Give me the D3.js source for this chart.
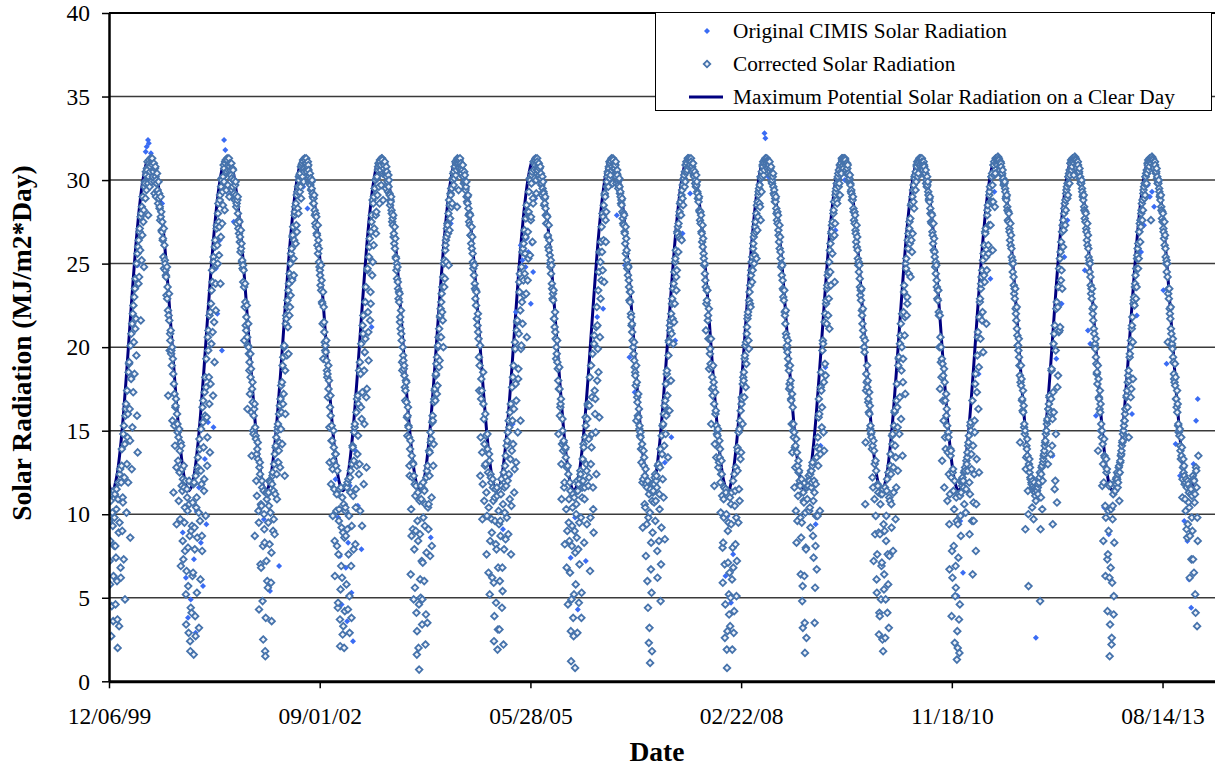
<!DOCTYPE html>
<html><head><meta charset="utf-8">
<script src="https://cdn.jsdelivr.net/npm/d3@7"></script>
<style>
body{margin:0;background:#fff}
svg{display:block}
text{font-family:"Liberation Serif","Times New Roman",serif;fill:#000}
</style>
</head><body>
<svg id="chart" width="1215" height="767"></svg>
<script>
// ---------- data ----------
const yTickValues = [0, 5, 10, 15, 20, 25, 30, 35, 40];
const xTickLabels = ["1999-12-06", "2002-09-01", "2005-05-28", "2008-02-22", "2010-11-18", "2013-08-14"];
const xDomain = ["1999-12-06", "2014-12-28"];

// Maximum potential (clear-day) radiation by day of year
const clearDayDoy   = [1, 15, 32, 46, 60, 74, 91, 105, 121, 135, 152, 166, 172, 182, 196, 213, 227, 244, 258, 274, 288, 305, 319, 335, 349, 355, 365];
const clearDayValue = [11.64, 12.49, 14.32, 16.36, 18.73, 21.25, 24.23, 26.46, 28.55, 29.92, 30.99, 31.37, 31.39, 31.24, 30.66, 29.34, 27.80, 25.41, 23.11, 20.29, 17.85, 15.16, 13.39, 12.01, 11.46, 11.41, 11.60];
const clearDayYears = [1999, 2000, 2001, 2002, 2003, 2004, 2005, 2006, 2007, 2008, 2009, 2010, 2011, 2012, 2013, 2014];
const clearDayRange = ["1999-11-28", "2014-01-20"];

// Corrected solar radiation: three interleaved samplings, every 5 days from each start date
const correctedStep = 5;
const startsA = ["1999-12-07", "2000-01-01", "2001-01-01", "2002-01-01", "2003-01-01", "2004-01-01", "2005-01-01", "2006-01-01", "2007-01-01", "2008-01-01", "2009-01-01", "2010-01-01", "2011-01-01", "2012-01-01", "2013-01-01", "2014-01-01"];
const startsB = ["1999-12-09", "2000-01-03", "2001-01-03", "2002-01-03", "2003-01-03", "2004-01-03", "2005-01-03", "2006-01-03", "2007-01-03", "2008-01-03", "2009-01-03", "2010-01-03", "2011-01-03", "2012-01-03", "2013-01-03", "2014-01-03"];
const startsC = ["1999-12-11", "2000-01-05", "2001-01-05", "2002-01-05", "2003-01-05", "2004-01-05", "2005-01-05", "2006-01-05", "2007-01-05", "2008-01-05", "2009-01-05", "2010-01-05", "2011-01-05", "2012-01-05", "2013-01-05", "2014-01-05"];

const correctedA1999 = [9.6, 8.4, 2.7, 10.1, 6.3];
const correctedA2000 = [9.8, 4.6, 11.5, 2.0, 8.9, 12.4, 6.2, 13.9, 10.7, 15.3, 4.9, 16.6, 17.4, 11.9, 19.1, 8.6, 20.8, 15.2, 22.5, 18.4, 24.1, 25.0, 13.7, 26.4, 27.1, 21.6, 28.4, 29.0, 24.8, 29.8, 30.3, 30.6, 27.9, 31.0, 30.8, 29.9, 30.9, 30.5, 29.2, 30.2, 29.8, 29.4, 28.9, 28.4, 27.8, 26.9, 26.5, 24.7, 25.0, 24.2, 22.9, 17.1, 21.6, 20.4, 19.8, 15.6, 11.3, 17.2, 16.5, 9.4, 14.9, 10.8, 13.8, 6.9, 12.7, 12.1, 11.6, 7.8, 3.4, 11.0, 5.7, 10.6, 1.8];
const correctedA2001 = [4.1, 10.7, 1.6, 7.9, 12.3, 5.3, 13.4, 3.2, 9.6, 15.1, 7.8, 16.8, 12.1, 18.2, 19.3, 14.6, 21.0, 21.9, 17.8, 23.4, 20.9, 25.1, 26.0, 22.2, 27.3, 28.0, 25.5, 29.1, 29.6, 27.4, 30.2, 30.7, 31.0, 29.4, 31.2, 30.9, 30.8, 30.6, 30.1, 29.6, 30.0, 28.8, 29.1, 27.4, 28.0, 26.8, 26.6, 25.9, 25.2, 23.9, 20.4, 22.7, 21.8, 16.3, 20.0, 19.1, 18.2, 13.5, 16.7, 15.9, 8.7, 14.5, 11.1, 13.3, 4.3, 12.4, 6.8, 11.6, 2.5, 9.1, 1.5, 7.2, 11.2];
const correctedA2002 = [11.3, 8.2, 11.9, 3.6, 12.5, 9.7, 13.6, 14.1, 10.9, 15.4, 16.0, 12.8, 17.7, 14.2, 19.4, 20.1, 16.0, 21.7, 22.8, 19.6, 24.4, 23.1, 25.9, 26.7, 24.3, 28.1, 28.6, 26.9, 29.6, 30.0, 30.4, 28.9, 31.0, 31.1, 30.7, 31.2, 31.0, 30.8, 30.6, 29.8, 30.1, 29.5, 29.0, 28.6, 27.9, 27.2, 26.7, 25.6, 25.1, 24.3, 23.4, 22.6, 19.3, 20.9, 20.1, 19.2, 18.4, 17.5, 13.1, 15.9, 15.3, 9.9, 14.0, 6.3, 12.9, 8.1, 4.7, 10.3, 2.1, 6.9, 11.0, 3.3, 8.6];
const correctedA2003 = [10.4, 5.8, 11.9, 7.6, 2.9, 12.6, 9.3, 14.0, 13.2, 15.4, 11.5, 16.9, 14.7, 18.6, 10.2, 20.2, 17.3, 21.9, 15.4, 20.5, 12.8, 24.7, 19.2, 26.5, 22.6, 27.9, 25.1, 29.0, 29.5, 26.8, 30.2, 30.8, 30.9, 31.1, 29.7, 31.2, 31.0, 30.9, 30.5, 30.2, 29.9, 29.6, 29.1, 28.7, 28.0, 27.3, 26.8, 25.9, 25.3, 24.1, 23.5, 22.7, 21.8, 20.8, 18.6, 19.2, 18.3, 17.4, 16.7, 15.9, 15.2, 12.3, 6.4, 13.5, 9.1, 12.3, 5.6, 11.7, 3.0, 8.4, 0.7, 6.1, 10.9];
const correctedA2004 = [4.9, 9.8, 11.4, 2.2, 7.7, 12.9, 10.6, 13.7, 14.3, 8.1, 15.6, 16.7, 17.5, 18.4, 19.4, 20.1, 21.1, 21.9, 22.7, 23.6, 20.0, 25.2, 26.1, 26.6, 27.3, 24.9, 28.5, 29.1, 29.5, 30.0, 30.5, 30.8, 31.0, 28.4, 31.2, 31.1, 30.9, 30.7, 30.6, 30.2, 29.9, 29.4, 29.0, 28.6, 27.9, 27.3, 26.7, 25.9, 25.1, 24.3, 23.5, 22.5, 21.7, 20.9, 17.4, 12.3, 18.1, 9.7, 16.6, 14.2, 13.0, 7.6, 13.9, 10.4, 5.2, 12.2, 8.9, 11.6, 2.4, 9.6, 4.7, 11.1, 6.8];
const correctedA2005 = [3.1, 8.7, 11.7, 5.4, 12.5, 10.1, 13.5, 9.8, 14.9, 12.4, 16.1, 7.6, 17.6, 14.2, 11.3, 19.9, 16.8, 21.6, 18.7, 23.3, 15.6, 24.8, 21.4, 26.2, 24.4, 27.7, 20.6, 26.9, 29.3, 25.5, 27.8, 30.5, 28.6, 31.0, 30.9, 29.2, 31.1, 30.8, 30.7, 30.1, 29.8, 29.5, 29.2, 28.6, 27.9, 27.4, 26.7, 25.8, 25.0, 24.4, 23.5, 22.8, 21.7, 20.9, 20.0, 19.1, 14.8, 17.5, 16.6, 10.9, 15.0, 14.4, 8.2, 13.4, 12.8, 4.6, 10.9, 6.5, 1.2, 9.3, 3.8, 11.0, 7.7];
const correctedA2006 = [10.6, 2.9, 11.8, 7.0, 12.4, 5.3, 13.3, 14.0, 11.6, 15.3, 9.4, 16.5, 12.2, 6.6, 18.9, 14.8, 10.3, 20.7, 16.9, 12.4, 21.3, 18.5, 25.7, 22.9, 27.2, 24.6, 28.5, 29.2, 26.3, 29.9, 30.4, 30.7, 31.0, 31.1, 30.8, 31.2, 31.0, 30.9, 29.8, 30.3, 29.7, 29.6, 29.0, 28.5, 27.7, 27.3, 26.8, 25.6, 25.2, 24.3, 23.6, 22.7, 21.8, 20.9, 20.0, 19.2, 18.3, 15.6, 16.7, 15.8, 15.3, 14.6, 13.9, 9.2, 12.9, 12.3, 7.5, 11.6, 4.4, 11.2, 1.1, 8.3, 10.8];
const correctedA2007 = [11.4, 11.8, 9.6, 12.3, 6.2, 13.0, 10.3, 4.8, 14.7, 12.1, 16.0, 8.5, 17.8, 18.6, 13.4, 20.3, 21.0, 22.0, 22.9, 20.2, 24.5, 25.3, 23.4, 26.8, 27.4, 28.1, 28.7, 26.4, 29.7, 30.1, 30.5, 30.9, 31.0, 31.2, 31.3, 30.9, 31.1, 30.8, 30.6, 30.4, 30.0, 29.7, 29.2, 28.7, 28.1, 27.4, 26.8, 26.0, 25.3, 24.4, 21.0, 22.8, 21.9, 18.7, 19.9, 15.4, 18.2, 17.6, 11.7, 16.0, 15.3, 14.7, 14.0, 13.4, 10.1, 12.4, 5.9, 9.8, 2.6, 11.3, 0.8, 7.1, 4.0];
const correctedA2008 = [3.3, 9.4, 1.9, 6.8, 12.4, 8.2, 5.1, 12.6, 14.9, 10.8, 16.2, 17.0, 17.8, 18.5, 19.5, 20.3, 21.2, 22.1, 22.8, 23.7, 24.6, 25.4, 26.2, 26.8, 27.5, 25.3, 28.7, 29.3, 29.7, 27.6, 30.5, 30.8, 31.0, 31.2, 31.3, 31.1, 31.1, 30.9, 30.7, 30.3, 30.0, 29.6, 29.1, 28.7, 28.0, 27.4, 26.7, 25.9, 25.3, 24.3, 23.5, 22.8, 21.9, 20.8, 20.1, 19.3, 17.5, 17.6, 16.8, 13.7, 15.4, 11.6, 14.1, 8.3, 12.9, 12.5, 12.0, 6.4, 9.5, 3.2, 10.7, 1.7, 7.9];
const correctedA2009 = [10.9, 11.7, 12.0, 9.2, 12.6, 13.1, 7.4, 3.5, 11.8, 6.7, 14.6, 16.9, 10.2, 18.5, 16.4, 20.2, 13.8, 22.0, 22.8, 23.7, 24.5, 21.1, 26.2, 26.9, 27.5, 28.2, 23.9, 29.3, 29.8, 30.2, 30.6, 29.1, 31.0, 31.2, 31.3, 31.3, 31.2, 31.0, 30.7, 30.4, 30.1, 29.7, 29.2, 28.8, 28.1, 27.4, 26.8, 26.0, 25.3, 24.5, 23.6, 22.8, 21.9, 21.0, 20.0, 10.6, 18.4, 17.6, 16.9, 16.0, 15.3, 14.6, 14.1, 7.2, 13.0, 9.9, 5.3, 11.7, 2.8, 8.8, 4.9, 11.2, 1.8];
const correctedA2010 = [6.4, 2.6, 9.9, 4.1, 12.5, 7.5, 13.6, 9.2, 14.8, 11.3, 16.2, 13.4, 17.8, 12.6, 19.4, 20.2, 15.7, 22.0, 19.3, 23.7, 17.2, 25.3, 22.6, 26.8, 27.5, 24.2, 28.6, 26.8, 29.7, 30.1, 30.5, 30.8, 31.0, 31.1, 31.3, 31.2, 31.1, 30.9, 30.8, 30.4, 30.0, 29.7, 29.1, 28.7, 28.0, 27.4, 26.7, 25.8, 25.4, 24.4, 23.6, 22.8, 21.9, 17.5, 20.0, 13.2, 18.3, 11.6, 16.8, 15.9, 10.8, 14.6, 6.7, 13.5, 3.9, 12.5, 8.1, 2.3, 5.6, 1.3, 9.4, 3.7, 11.1];
const correctedA2011 = [11.3, 11.7, 12.0, 10.6, 12.6, 13.2, 13.7, 14.3, 8.8, 15.5, 12.7, 6.4, 9.6, 14.9, 7.8, 17.3, 20.9, 12.5, 22.9, 23.8, 24.6, 19.7, 26.1, 26.8, 21.4, 28.2, 25.6, 29.3, 27.3, 30.2, 25.8, 30.9, 28.4, 31.2, 31.3, 31.4, 31.2, 31.0, 30.8, 30.4, 30.1, 29.8, 29.3, 28.8, 28.2, 27.5, 26.9, 26.1, 25.4, 24.5, 23.7, 22.9, 22.0, 21.1, 20.1, 19.4, 14.3, 17.7, 16.9, 16.1, 15.4, 9.1, 14.1, 13.5, 5.7, 12.5, 12.1, 11.8, 11.6, 11.4, 11.3, 10.8, 11.4];
const correctedA2012 = [11.2, 11.9, 4.8, 12.4, 10.3, 13.3, 13.8, 14.4, 15.0, 15.7, 16.3, 17.1, 13.6, 18.7, 9.4, 16.1, 21.3, 14.8, 10.7, 18.3, 24.7, 21.2, 26.3, 23.5, 27.6, 28.3, 28.8, 29.4, 29.8, 30.2, 30.6, 31.0, 31.1, 31.2, 30.3, 31.4, 31.2, 31.1, 30.9, 30.5, 30.2, 29.8, 29.3, 28.8, 28.2, 27.5, 26.9, 26.1, 25.4, 24.5, 23.7, 22.9, 22.0, 21.1, 20.2, 19.4, 18.5, 13.8, 16.9, 16.1, 15.4, 11.7, 8.4, 13.5, 6.3, 12.5, 4.2, 9.0, 1.5, 6.8, 2.6, 10.5, 5.1];
const correctedA2013 = [11.4, 11.8, 12.1, 12.4, 10.8, 13.2, 13.8, 14.4, 15.0, 15.6, 16.3, 17.1, 17.9, 14.6, 19.6, 20.4, 21.3, 18.1, 23.0, 23.8, 24.7, 25.5, 26.2, 26.9, 27.6, 28.2, 28.8, 29.4, 29.8, 30.2, 30.6, 30.9, 31.1, 31.2, 27.6, 31.4, 31.2, 31.1, 30.9, 30.5, 30.2, 29.8, 29.3, 28.8, 28.2, 27.5, 26.9, 26.1, 25.4, 24.5, 20.3, 22.9, 22.0, 21.1, 20.2, 19.4, 18.1, 17.7, 16.9, 16.1, 15.4, 14.7, 13.8, 13.5, 12.1, 12.5, 11.8, 10.2, 11.6, 9.4, 11.3, 8.7, 11.5];
const correctedA2014 = [11.1, 7.3, 12.0, 5.2, 12.6, 9.8, 13.5];

const correctedB1999 = [7.2, 10.8, 4.5, 9.3, 11.4];
const correctedB2000 = [11.2, 7.4, 6.0, 10.9, 3.3, 12.7, 11.9, 9.0, 14.8, 12.2, 15.9, 10.1, 14.6, 18.5, 16.3, 20.1, 12.7, 22.0, 20.3, 23.5, 21.7, 15.9, 26.0, 24.2, 25.8, 28.0, 26.7, 27.5, 29.6, 28.9, 29.4, 31.1, 30.2, 29.6, 31.3, 31.0, 30.2, 31.0, 30.7, 29.0, 30.4, 28.6, 29.2, 27.6, 28.1, 27.5, 25.4, 26.1, 24.6, 23.1, 23.6, 21.9, 19.8, 21.0, 18.9, 19.3, 17.8, 14.1, 16.9, 16.0, 13.2, 15.1, 9.7, 14.1, 11.4, 7.3, 9.5, 12.0, 6.6, 10.2, 2.9, 8.7, 4.4];
const correctedB2001 = [9.3, 6.5, 11.9, 3.9, 10.4, 8.6, 12.6, 14.5, 6.1, 11.8, 16.4, 14.0, 17.3, 9.9, 15.8, 20.6, 18.2, 13.7, 22.6, 24.6, 17.1, 21.5, 26.4, 24.9, 26.1, 28.6, 27.2, 23.8, 30.1, 29.3, 30.9, 28.2, 31.2, 30.5, 29.7, 31.3, 31.0, 30.3, 29.4, 30.6, 29.2, 29.7, 28.4, 28.8, 27.1, 27.5, 25.7, 26.2, 24.7, 24.6, 22.4, 21.3, 22.5, 20.1, 19.6, 17.2, 18.7, 17.5, 15.0, 16.3, 15.2, 12.0, 13.9, 10.2, 12.8, 7.0, 10.5, 4.8, 11.4, 8.3, 3.8, 10.9, 5.6];
const correctedB2002 = [10.5, 12.0, 5.9, 11.8, 9.0, 13.0, 11.2, 14.6, 15.0, 13.1, 14.3, 16.9, 16.1, 18.9, 17.2, 12.3, 21.4, 19.5, 21.2, 23.8, 22.4, 25.6, 24.0, 27.2, 26.4, 28.4, 27.3, 29.3, 28.0, 30.3, 29.6, 30.9, 30.2, 29.9, 31.3, 30.6, 30.5, 31.1, 29.9, 30.4, 29.4, 30.0, 28.6, 29.1, 27.4, 27.8, 26.1, 26.4, 24.8, 23.7, 24.0, 21.4, 22.4, 20.3, 19.7, 18.6, 17.0, 18.0, 16.4, 11.8, 14.4, 13.2, 11.5, 13.6, 10.2, 12.6, 7.6, 11.5, 5.5, 9.2, 2.8, 10.6, 4.2];
const correctedB2003 = [8.7, 11.6, 4.3, 9.9, 12.2, 6.9, 13.0, 11.1, 14.9, 8.2, 16.1, 13.6, 16.6, 13.0, 18.4, 15.7, 21.3, 11.8, 19.7, 23.6, 17.5, 22.1, 25.4, 21.6, 26.9, 24.3, 28.6, 27.1, 30.0, 28.1, 29.1, 31.0, 28.6, 30.6, 31.3, 30.4, 30.7, 31.1, 29.5, 30.5, 29.3, 30.0, 28.5, 29.0, 27.5, 27.9, 26.2, 26.5, 24.6, 24.8, 22.9, 23.2, 21.1, 20.4, 20.0, 18.7, 17.6, 18.0, 15.8, 16.4, 14.6, 13.9, 10.3, 12.2, 13.0, 7.9, 11.1, 4.1, 9.6, 2.0, 10.8, 5.0, 7.2];
const correctedB2004 = [7.1, 11.5, 9.3, 4.0, 12.6, 10.4, 13.8, 7.5, 14.5, 15.5, 12.9, 16.9, 16.8, 19.0, 17.7, 20.6, 19.2, 22.3, 23.2, 21.6, 25.0, 24.1, 26.4, 27.1, 26.8, 28.8, 27.7, 29.5, 28.6, 30.4, 30.1, 31.1, 30.6, 31.3, 29.4, 31.2, 31.0, 30.4, 30.9, 29.8, 30.3, 29.6, 28.7, 29.1, 27.5, 27.9, 26.2, 26.6, 24.7, 24.9, 22.9, 23.3, 21.3, 20.5, 18.9, 14.6, 17.4, 11.8, 15.7, 12.9, 14.7, 9.9, 12.5, 13.6, 8.4, 11.9, 6.2, 10.8, 3.9, 11.5, 7.9, 1.9, 10.2];
const correctedB2005 = [6.0, 11.2, 4.4, 10.6, 7.9, 12.9, 11.7, 14.4, 8.8, 15.2, 13.3, 10.5, 15.6, 18.9, 12.7, 17.8, 21.0, 14.9, 20.8, 24.4, 19.9, 22.7, 25.9, 23.1, 25.6, 23.2, 28.1, 25.3, 27.8, 30.0, 29.8, 26.3, 31.1, 30.1, 31.3, 30.6, 30.6, 31.0, 30.1, 30.4, 29.1, 29.9, 28.5, 29.0, 27.4, 27.8, 26.0, 26.4, 24.8, 24.9, 22.9, 23.4, 21.2, 20.5, 19.6, 18.7, 17.5, 15.9, 16.9, 14.2, 13.8, 11.6, 13.9, 10.3, 9.0, 12.4, 8.4, 11.4, 4.9, 10.4, 2.7, 9.0, 5.8];
const correctedB2006 = [8.6, 11.4, 4.7, 12.1, 9.8, 11.0, 12.0, 8.3, 14.6, 13.0, 15.7, 11.7, 16.5, 9.8, 14.0, 19.6, 8.9, 17.4, 14.9, 22.4, 19.9, 24.5, 20.6, 26.3, 25.7, 27.8, 23.9, 29.0, 28.1, 30.2, 29.6, 31.1, 30.3, 31.3, 29.8, 30.7, 30.7, 31.1, 30.4, 29.9, 30.0, 29.2, 28.6, 28.9, 27.4, 27.9, 26.2, 26.5, 24.7, 24.8, 22.8, 23.3, 21.3, 20.4, 19.6, 18.8, 17.7, 17.9, 15.9, 16.3, 14.7, 13.9, 14.2, 12.1, 13.4, 10.4, 11.8, 6.0, 9.8, 3.2, 11.5, 5.3, 8.9];
const correctedB2007 = [11.9, 12.2, 10.8, 11.6, 12.9, 8.4, 12.8, 7.0, 13.6, 15.4, 14.1, 16.8, 15.9, 17.1, 19.5, 16.2, 21.6, 20.8, 21.7, 23.8, 22.6, 25.8, 24.6, 27.2, 26.6, 28.6, 27.9, 29.4, 28.5, 30.3, 29.9, 31.1, 30.6, 31.3, 30.9, 31.1, 30.8, 31.0, 30.3, 30.5, 29.6, 29.9, 28.9, 29.0, 27.6, 27.9, 26.3, 26.5, 24.9, 24.0, 22.6, 23.4, 20.5, 20.5, 19.0, 18.8, 17.1, 17.9, 14.2, 16.2, 14.8, 15.1, 13.1, 13.9, 12.4, 11.1, 8.3, 11.6, 4.6, 10.0, 3.0, 9.5, 6.5];
const correctedB2008 = [5.0, 11.3, 8.0, 2.9, 10.5, 12.8, 7.2, 13.8, 11.5, 15.6, 13.7, 16.9, 18.2, 17.0, 20.1, 19.0, 21.7, 20.4, 23.3, 22.4, 25.1, 24.6, 26.6, 25.5, 26.9, 28.5, 27.8, 29.5, 28.4, 30.1, 30.2, 31.1, 30.6, 31.3, 31.0, 30.7, 30.6, 31.1, 30.3, 29.9, 30.2, 29.2, 28.7, 29.0, 27.6, 27.9, 26.3, 26.6, 24.8, 24.9, 23.0, 23.4, 21.4, 20.6, 19.7, 18.9, 17.8, 18.0, 15.4, 16.4, 14.6, 14.0, 10.2, 13.7, 11.1, 12.6, 11.7, 8.6, 4.8, 11.3, 6.3, 10.1, 2.6];
const correctedB2009 = [11.7, 12.3, 10.4, 12.6, 11.9, 8.7, 12.0, 5.6, 9.9, 14.0, 12.9, 16.0, 13.6, 17.4, 19.8, 14.9, 21.5, 18.3, 21.4, 24.3, 22.9, 25.8, 23.7, 27.3, 26.6, 28.7, 27.4, 29.5, 28.6, 30.4, 29.8, 30.9, 30.4, 31.3, 30.7, 31.0, 30.9, 30.4, 30.9, 29.9, 30.3, 29.3, 28.8, 29.0, 27.6, 27.9, 26.3, 26.6, 24.9, 24.9, 23.1, 23.5, 21.4, 20.6, 19.7, 14.3, 17.9, 18.0, 16.1, 16.5, 14.8, 13.9, 11.6, 13.8, 8.8, 12.6, 7.6, 11.3, 4.1, 10.6, 6.9, 2.5, 9.4];
const correctedB2010 = [9.0, 4.9, 11.4, 7.6, 3.2, 10.8, 12.4, 14.7, 7.8, 15.3, 14.1, 11.6, 16.4, 18.9, 14.8, 20.7, 18.6, 13.5, 22.1, 20.7, 25.0, 21.9, 26.4, 24.4, 26.2, 28.5, 25.7, 29.4, 28.3, 30.3, 29.9, 31.1, 30.4, 31.3, 30.8, 31.1, 30.8, 31.1, 30.3, 30.6, 29.6, 29.9, 28.8, 29.0, 27.5, 27.9, 26.2, 26.5, 24.8, 24.9, 22.9, 23.4, 20.0, 20.6, 18.2, 19.0, 15.6, 17.9, 13.9, 16.3, 13.7, 12.4, 11.2, 13.8, 7.8, 12.7, 10.3, 5.1, 11.0, 3.0, 7.4, 1.7, 9.9];
const correctedB2011 = [11.9, 12.2, 11.6, 12.6, 10.1, 13.0, 12.6, 14.7, 11.2, 15.0, 9.6, 14.1, 12.4, 17.8, 10.6, 19.5, 16.3, 21.8, 20.5, 24.2, 22.1, 25.6, 23.9, 27.1, 24.6, 28.5, 27.3, 29.6, 28.7, 30.4, 28.7, 31.1, 30.4, 31.3, 30.9, 31.1, 30.8, 31.1, 30.4, 30.6, 29.7, 29.9, 28.9, 29.1, 27.6, 28.0, 26.4, 26.7, 25.0, 25.0, 23.2, 23.5, 21.6, 20.7, 19.8, 18.9, 17.9, 18.1, 16.2, 16.5, 14.8, 12.7, 13.9, 11.4, 13.0, 12.8, 12.2, 10.4, 11.7, 11.9, 11.1, 11.5, 11.7];
const correctedB2012 = [11.8, 12.2, 9.1, 12.8, 12.0, 13.5, 14.1, 14.8, 15.4, 13.0, 16.6, 15.9, 16.9, 14.1, 17.3, 20.8, 12.0, 22.3, 17.6, 23.6, 21.0, 25.7, 24.6, 27.3, 27.0, 28.6, 28.2, 29.6, 29.1, 30.4, 30.3, 31.2, 30.8, 31.3, 31.0, 31.2, 30.9, 31.1, 30.5, 30.7, 29.8, 30.0, 29.0, 29.1, 27.7, 28.0, 26.4, 26.7, 25.0, 25.0, 23.2, 23.5, 21.6, 20.8, 19.9, 19.0, 17.8, 18.1, 16.3, 16.6, 14.6, 14.2, 11.9, 13.4, 9.8, 12.7, 7.6, 11.7, 3.4, 10.3, 5.9, 11.2, 8.3];
const correctedB2013 = [11.9, 12.2, 11.6, 12.8, 12.5, 13.5, 14.1, 14.8, 15.3, 16.0, 14.6, 17.4, 18.3, 18.0, 20.0, 17.5, 21.8, 22.6, 22.5, 24.3, 23.6, 25.9, 25.3, 27.4, 27.2, 28.6, 28.2, 29.6, 29.1, 30.4, 30.4, 31.2, 30.8, 31.3, 31.0, 31.2, 30.9, 31.1, 30.5, 30.7, 29.8, 30.0, 29.0, 29.1, 27.7, 28.0, 26.5, 26.7, 25.0, 25.0, 23.2, 23.5, 21.7, 20.8, 19.9, 19.1, 17.9, 18.2, 16.4, 16.6, 14.9, 15.1, 13.3, 14.0, 12.8, 12.9, 10.9, 12.1, 8.6, 11.8, 10.4, 11.6, 7.3];
const correctedB2014 = [9.0, 12.1, 10.7, 4.1, 11.6, 8.4];

const correctedC1999 = [5.8, 9.9, 11.2, 3.6, 8.1];
const correctedC2000 = [8.1, 10.3, 3.7, 11.9, 9.5, 6.8, 12.9, 11.0, 7.3, 14.2, 16.3, 13.0, 16.0, 19.0, 14.4, 18.1, 21.4, 17.3, 23.0, 21.1, 19.5, 25.6, 23.8, 26.9, 27.8, 25.2, 29.0, 28.2, 29.9, 30.5, 30.7, 29.8, 31.2, 30.5, 30.0, 31.3, 30.6, 29.9, 30.8, 30.0, 29.3, 29.9, 28.3, 29.0, 27.0, 26.4, 27.1, 25.2, 24.3, 24.8, 22.2, 23.2, 20.8, 19.6, 20.0, 18.4, 15.3, 16.4, 12.8, 15.4, 14.6, 12.5, 14.3, 11.7, 8.4, 12.9, 10.4, 5.2, 11.5, 8.0, 12.0, 2.4, 9.0];
const correctedC2001 = [6.3, 11.8, 9.2, 2.7, 11.0, 12.8, 10.1, 13.9, 12.6, 8.7, 15.5, 11.4, 15.9, 17.6, 12.9, 19.8, 16.6, 22.1, 20.2, 23.9, 25.4, 19.1, 23.8, 27.1, 25.0, 27.5, 28.8, 26.6, 30.0, 28.5, 29.9, 31.1, 30.4, 31.3, 30.6, 29.0, 30.4, 31.0, 30.7, 30.0, 28.9, 29.9, 28.6, 29.0, 27.6, 26.3, 27.0, 25.1, 24.9, 23.6, 23.8, 21.0, 20.6, 21.4, 18.6, 19.6, 16.1, 17.9, 14.8, 16.6, 14.7, 13.6, 14.3, 9.5, 13.1, 10.6, 12.0, 8.1, 10.0, 1.8, 11.3, 6.0, 9.5];
const correctedC2002 = [12.0, 10.1, 7.7, 12.3, 11.4, 8.8, 14.0, 12.4, 15.2, 13.8, 16.5, 15.1, 17.9, 16.6, 20.0, 18.6, 21.9, 22.4, 23.4, 21.9, 25.0, 24.2, 26.6, 25.3, 27.9, 26.2, 29.1, 28.3, 30.2, 29.3, 30.8, 30.1, 31.2, 30.5, 31.0, 31.3, 30.7, 30.9, 30.2, 29.7, 29.9, 29.2, 28.9, 28.2, 28.0, 26.8, 27.3, 25.9, 24.6, 24.9, 22.7, 23.3, 21.5, 19.8, 20.4, 18.2, 18.9, 15.2, 17.1, 14.4, 12.7, 15.0, 8.4, 13.6, 11.2, 4.4, 9.6, 3.7, 11.6, 6.2, 8.9, 2.0, 10.2];
const correctedC2003 = [11.7, 9.1, 12.1, 5.1, 11.3, 3.8, 14.1, 7.9, 15.2, 10.4, 12.9, 17.1, 12.4, 19.1, 16.4, 9.3, 20.8, 18.6, 22.7, 17.0, 24.6, 20.9, 26.0, 23.3, 27.5, 28.8, 26.1, 29.5, 27.9, 30.1, 30.6, 29.6, 31.2, 30.9, 31.3, 28.8, 31.0, 30.4, 30.8, 29.7, 30.3, 29.2, 28.8, 28.2, 27.7, 26.6, 27.2, 25.4, 25.0, 23.9, 23.3, 21.5, 22.2, 19.1, 19.5, 18.9, 16.8, 17.9, 14.7, 15.3, 12.9, 14.4, 8.7, 13.1, 4.9, 11.8, 9.0, 1.6, 11.3, 4.6, 8.8, 11.7, 3.4];
const correctedC2004 = [11.9, 6.0, 10.6, 12.2, 3.5, 9.1, 12.3, 14.9, 11.0, 15.9, 14.2, 17.4, 18.3, 17.2, 20.0, 18.8, 21.8, 20.6, 22.1, 24.2, 23.6, 25.8, 25.1, 27.4, 28.0, 27.0, 29.2, 28.4, 30.1, 29.7, 30.8, 30.3, 31.2, 31.0, 30.7, 31.3, 30.6, 30.9, 30.2, 30.5, 29.5, 29.9, 29.0, 28.3, 28.0, 26.7, 27.2, 25.6, 24.9, 23.8, 23.4, 21.7, 22.0, 19.4, 20.1, 16.9, 13.7, 18.5, 10.8, 16.0, 11.3, 14.8, 6.5, 13.2, 12.4, 9.7, 12.1, 5.9, 11.0, 8.2, 11.6, 3.1, 9.4];
const correctedC2005 = [9.6, 12.1, 6.8, 2.2, 11.6, 8.5, 14.1, 12.0, 15.6, 10.9, 16.6, 13.8, 18.2, 16.3, 20.3, 13.1, 21.5, 18.1, 23.9, 22.2, 20.1, 25.7, 24.0, 27.0, 26.6, 28.5, 24.0, 28.1, 30.1, 27.6, 30.3, 28.9, 30.6, 31.2, 30.0, 31.3, 30.9, 30.3, 30.8, 29.7, 30.2, 29.3, 28.9, 28.3, 27.9, 26.6, 27.3, 25.5, 25.2, 23.8, 23.2, 21.7, 22.1, 19.3, 20.4, 18.0, 18.8, 16.4, 13.0, 15.7, 14.3, 11.9, 14.0, 6.8, 12.9, 9.5, 11.9, 3.0, 8.1, 11.2, 5.2, 0.8, 10.0];
const correctedC2006 = [12.0, 7.9, 9.5, 12.6, 3.8, 11.6, 14.2, 10.9, 15.8, 12.6, 16.6, 14.5, 18.2, 13.0, 17.0, 11.6, 20.2, 16.0, 21.2, 18.0, 23.4, 15.8, 25.1, 24.0, 28.0, 26.4, 29.1, 27.6, 29.6, 30.5, 30.8, 30.1, 31.2, 30.6, 31.3, 31.0, 30.9, 30.2, 30.6, 29.5, 30.1, 29.3, 28.8, 28.1, 28.0, 26.9, 27.2, 25.8, 24.9, 24.0, 23.3, 22.0, 21.4, 20.0, 20.3, 18.5, 18.9, 17.0, 17.2, 15.1, 14.9, 13.1, 11.9, 13.8, 10.6, 12.7, 9.4, 12.0, 2.3, 10.1, 6.7, 1.8, 11.3];
const correctedC2007 = [10.7, 12.4, 12.0, 7.8, 12.9, 11.2, 13.9, 9.2, 15.3, 11.0, 16.5, 14.8, 18.4, 16.2, 20.4, 21.3, 18.0, 22.6, 23.5, 21.5, 25.1, 24.2, 26.9, 25.7, 27.9, 26.5, 29.1, 28.9, 30.0, 29.6, 30.9, 30.5, 31.3, 30.8, 31.2, 31.3, 30.5, 31.0, 30.2, 29.8, 30.3, 29.3, 28.9, 28.2, 28.1, 26.9, 27.3, 25.6, 25.0, 23.6, 23.4, 21.6, 22.3, 19.6, 20.5, 17.5, 18.9, 16.6, 17.3, 13.4, 15.0, 12.8, 14.4, 11.9, 13.2, 8.0, 10.9, 7.0, 11.5, 1.9, 9.0, 5.2, 11.0];
const correctedC2008 = [10.6, 6.1, 12.0, 4.2, 11.4, 9.8, 14.0, 9.5, 15.1, 13.3, 16.6, 15.4, 18.0, 19.3, 17.6, 20.8, 21.9, 19.9, 22.6, 24.3, 23.9, 25.9, 25.0, 27.2, 28.0, 27.0, 29.1, 28.6, 30.2, 29.3, 30.9, 30.3, 31.2, 30.9, 31.3, 31.2, 30.9, 30.5, 30.8, 29.8, 30.4, 29.4, 28.9, 28.3, 28.1, 27.0, 27.3, 25.7, 25.0, 24.0, 23.4, 22.1, 22.2, 19.9, 20.4, 18.6, 18.9, 16.9, 17.2, 15.0, 14.9, 12.8, 14.5, 9.6, 13.2, 11.8, 9.8, 12.1, 5.7, 10.8, 3.5, 8.0, 11.6];
const correctedC2009 = [12.0, 10.2, 12.4, 11.6, 12.9, 10.8, 11.3, 8.1, 13.4, 9.9, 15.8, 13.9, 17.6, 15.2, 20.4, 17.9, 19.0, 22.6, 23.5, 21.9, 25.1, 24.5, 26.8, 25.6, 28.0, 26.7, 29.1, 28.8, 30.1, 29.6, 30.9, 30.5, 31.3, 30.9, 31.2, 31.3, 30.6, 31.0, 30.3, 30.0, 29.8, 29.4, 29.0, 28.3, 28.1, 27.0, 27.3, 25.8, 25.1, 24.1, 23.4, 22.2, 22.3, 20.0, 20.4, 17.4, 18.9, 16.7, 17.3, 15.1, 14.9, 12.2, 14.4, 10.9, 13.2, 6.1, 11.8, 8.9, 3.9, 11.2, 7.1, 11.5, 5.5];
const correctedC2010 = [11.6, 8.4, 12.1, 5.8, 11.0, 12.9, 10.6, 14.2, 12.8, 16.1, 9.7, 16.8, 15.2, 19.3, 17.0, 21.4, 20.0, 17.9, 23.3, 21.8, 24.7, 23.0, 25.9, 27.1, 27.7, 26.4, 29.0, 28.7, 30.2, 29.4, 30.9, 30.2, 31.2, 30.9, 31.3, 31.3, 30.6, 30.9, 30.4, 29.8, 30.2, 29.3, 28.9, 28.3, 28.0, 26.9, 27.4, 25.7, 25.1, 24.0, 23.4, 22.1, 21.9, 19.1, 19.3, 16.8, 18.7, 14.6, 17.2, 15.3, 14.9, 9.4, 13.9, 12.2, 6.2, 11.4, 12.0, 6.9, 9.6, 2.0, 11.2, 4.6, 8.7];
const correctedC2011 = [12.1, 11.9, 12.5, 12.8, 11.5, 13.4, 14.1, 11.9, 15.3, 13.6, 16.8, 10.7, 15.6, 18.4, 13.3, 20.6, 18.8, 22.7, 23.5, 21.6, 25.2, 24.3, 26.9, 25.4, 27.9, 26.1, 29.1, 28.7, 30.2, 29.7, 30.9, 30.3, 31.3, 31.0, 31.3, 31.3, 30.6, 31.0, 30.3, 30.0, 29.9, 29.5, 29.0, 28.4, 28.1, 27.1, 27.4, 25.9, 25.2, 24.2, 23.5, 22.3, 22.4, 20.1, 20.5, 18.3, 18.9, 16.8, 17.4, 15.2, 15.0, 13.4, 14.5, 10.0, 13.3, 12.2, 11.9, 12.0, 9.7, 11.6, 11.5, 11.4, 11.6];
const correctedC2012 = [12.1, 12.5, 11.0, 12.9, 13.1, 13.6, 14.3, 15.0, 15.6, 16.3, 17.0, 16.1, 18.6, 15.7, 20.2, 11.5, 19.8, 22.7, 22.4, 20.9, 25.3, 24.0, 26.9, 26.0, 28.0, 27.3, 29.2, 28.9, 30.2, 29.8, 31.0, 30.6, 31.3, 31.1, 31.3, 31.3, 30.7, 31.1, 30.4, 30.1, 29.9, 29.5, 29.1, 28.4, 28.1, 27.1, 27.4, 25.9, 25.2, 24.2, 23.5, 22.3, 22.4, 20.1, 20.5, 18.4, 18.9, 17.0, 17.4, 15.0, 15.0, 13.0, 14.5, 10.5, 13.3, 7.3, 10.2, 6.2, 11.8, 2.2, 9.7, 4.0, 11.4];
const correctedC2013 = [12.1, 12.5, 11.9, 12.9, 13.1, 13.6, 14.3, 15.0, 15.6, 16.3, 17.0, 16.4, 18.6, 19.4, 17.0, 21.1, 20.3, 22.8, 23.6, 22.9, 25.3, 24.7, 26.9, 26.3, 28.0, 27.6, 29.2, 28.9, 30.2, 29.8, 31.0, 30.6, 31.3, 31.1, 31.3, 31.3, 30.7, 31.1, 30.4, 30.1, 29.9, 29.5, 29.1, 28.4, 28.1, 27.1, 27.5, 25.9, 25.2, 24.2, 23.5, 22.3, 22.4, 20.1, 20.5, 18.4, 19.0, 16.9, 17.4, 15.3, 15.0, 14.1, 14.6, 11.0, 13.3, 12.3, 11.9, 9.1, 12.0, 10.7, 6.2, 11.2, 9.8];
const correctedC2014 = [12.3, 6.5, 11.2, 12.8, 3.3];

const correctedA = [correctedA1999, correctedA2000, correctedA2001, correctedA2002, correctedA2003, correctedA2004, correctedA2005, correctedA2006, correctedA2007, correctedA2008, correctedA2009, correctedA2010, correctedA2011, correctedA2012, correctedA2013, correctedA2014];
const correctedB = [correctedB1999, correctedB2000, correctedB2001, correctedB2002, correctedB2003, correctedB2004, correctedB2005, correctedB2006, correctedB2007, correctedB2008, correctedB2009, correctedB2010, correctedB2011, correctedB2012, correctedB2013, correctedB2014];
const correctedC = [correctedC1999, correctedC2000, correctedC2001, correctedC2002, correctedC2003, correctedC2004, correctedC2005, correctedC2006, correctedC2007, correctedC2008, correctedC2009, correctedC2010, correctedC2011, correctedC2012, correctedC2013, correctedC2014];

// Original CIMIS values on the days where they differ from the corrected ones
const originalDates = ["2000-05-28","2000-06-02","2000-06-08","2000-06-12","2000-06-22","2000-07-03","2000-04-20","2000-08-14",
 "2000-11-20","2000-12-05","2000-12-15","2000-12-28","2001-01-12","2001-01-20","2001-01-25","2001-02-05","2001-02-14","2001-02-24","2001-03-05","2001-03-12","2001-03-20",
 "2001-06-04","2001-06-10","2001-05-15","2001-05-03","2001-04-26","2001-07-20","2001-06-28","2001-05-25","2001-04-15",
 "2001-12-10","2002-01-08","2002-01-28","2002-02-12","2002-02-20",
 "2002-06-15","2002-07-05","2002-05-20","2002-04-30",
 "2002-11-15","2002-11-28","2002-12-06","2002-12-14","2002-12-20","2003-01-03","2003-01-09","2003-01-14","2003-01-22","2003-01-30","2003-02-06","2003-02-18","2003-03-01","2003-03-10","2003-03-18","2003-04-02",
 "2003-05-05","2003-06-20","2004-02-10","2004-05-15",
 "2005-01-18","2005-02-20","2005-03-05","2005-03-20","2005-04-05","2005-04-12","2005-04-20","2005-04-28","2005-05-05","2005-05-10","2005-05-18","2005-05-24","2005-05-30","2005-06-03","2005-06-10","2005-06-20",
 "2005-12-05","2005-12-26","2006-01-08","2006-01-30","2006-02-15",
 "2006-04-10","2006-04-25","2006-05-08","2006-07-12","2006-08-20","2006-09-10","2006-10-05",
 "2007-02-25","2007-03-10","2007-03-28","2007-04-15","2007-05-20","2007-06-25","2007-12-10","2007-12-20","2008-01-05","2008-01-15",
 "2008-04-20","2008-05-22","2008-06-12","2008-06-16","2008-06-30",
 "2009-02-10","2009-03-05","2009-03-28","2009-05-15","2009-06-28",
 "2010-03-15","2010-04-18","2010-05-10","2010-12-15","2010-12-28","2011-01-10",
 "2011-03-25","2011-05-20","2011-06-08","2011-12-05","2011-12-22",
 "2012-03-10","2012-03-28","2012-04-22","2012-05-05","2012-05-20","2012-06-02","2012-08-10","2012-08-25","2012-09-05","2012-10-02","2012-11-10","2012-12-02",
 "2013-03-22","2013-04-14","2013-05-04","2013-05-18","2013-06-05","2013-06-15","2013-06-25","2013-07-05","2013-08-18","2013-09-02","2013-10-15","2013-11-05","2013-11-25","2013-12-10","2013-12-18","2013-12-28","2014-01-08","2014-01-20","2014-01-28"];
const originalValues = [31.7,32.0,32.4,32.2,31.6,30.4,24.9,28.6,
 8.9,6.2,3.8,4.9,7.3,2.9,10.2,11.6,8.3,5.7,13.3,9.4,15.5,
 32.4,31.8,26.4,22.0,24.7,27.5,29.1,19.8,15.2,
 9.7,5.4,11.4,13.2,6.9,
 29.6,28.3,27.3,24.1,
 12.1,9.8,7.5,4.6,9.1,6.8,3.6,8.3,11.7,5.3,2.4,13.8,10.5,16.4,7.9,19.6,
 21.2,30.4,8.6,27.4,
 9.1,12.3,15.4,22.1,24.3,26.1,25.2,27.0,24.8,26.5,25.7,27.6,22.6,26.2,24.5,28.9,
 7.4,9.8,4.3,11.0,7.2,
 21.8,24.5,22.3,27.9,24.9,19.4,17.3,
 13.1,17.9,14.6,20.4,26.8,29.2,6.3,9.9,4.7,7.6,
 26.5,29.8,32.8,32.5,30.2,
 9.4,14.1,18.8,27.0,30.0,
 17.0,22.9,25.8,5.1,9.6,6.5,
 18.4,24.1,29.3,12.2,2.6,
 13.5,19.3,22.6,25.4,27.6,29.8,24.6,21.0,20.2,15.9,10.4,8.8,
 16.0,21.9,25.7,27.3,29.7,29.0,29.3,28.4,23.4,19.0,14.2,12.3,9.6,8.4,6.1,4.4,13.0,15.6,16.9];

const seriesNames = ["Original CIMIS Solar Radiation", "Corrected Solar Radiation", "Maximum Potential Solar Radiation on a Clear Day"];
const yTitle = "Solar Radiation (MJ/m2*Day)";
const xTitle = "Date";

// ---------- drawing ----------
const parse = d3.utcParse("%Y-%m-%d");
const fmt = d3.utcFormat("%m/%d/%y");
const svg = d3.select("#chart");

const plot = {left: 109, top: 13, bottom: 681.3, right: 1268.1};
const x = d3.scaleUtc().domain(xDomain.map(parse)).range([plot.left, plot.right]);
const y = d3.scaleLinear().domain([0, 40]).range([plot.bottom, plot.top]);

const DAY = 86400000;

// clear-day curve points
const cdStart = parse(clearDayRange[0]), cdEnd = parse(clearDayRange[1]);
const clearDay = [];
clearDayYears.forEach(yr => {
  clearDayDoy.forEach((doy, k) => {
    const dt = new Date(Date.UTC(yr, 0, doy));
    if (dt >= cdStart && dt <= cdEnd) clearDay.push({date: dt, value: clearDayValue[k]});
  });
});

// corrected points
const corrected = [];
[[correctedA, startsA], [correctedB, startsB], [correctedC, startsC]].forEach(([sets, starts]) => {
  sets.forEach((arr, s) => {
    const start = parse(starts[s]);
    arr.forEach((v, i) => corrected.push({date: new Date(+start + i * correctedStep * DAY), value: v}));
  });
});
corrected.sort((a, b) => a.date - b.date);
const original = originalDates.map((d, i) => ({date: parse(d), value: originalValues[i]}));

svg.append("defs").append("clipPath").attr("id", "clip")
  .append("rect").attr("x", plot.left).attr("y", plot.top - 4)
  .attr("width", plot.right - plot.left).attr("height", plot.bottom - plot.top + 4);

// gridlines
svg.append("g").selectAll("line").data(yTickValues.filter(v => v > 0 && v < 40)).join("line")
  .attr("x1", plot.left).attr("x2", plot.right)
  .attr("y1", d => y(d)).attr("y2", d => y(d))
  .attr("stroke", "#3a3a3a").attr("stroke-width", 1.5);
// top border
svg.append("line").attr("x1", plot.left).attr("x2", plot.right)
  .attr("y1", y(40)).attr("y2", y(40)).attr("stroke", "#000").attr("stroke-width", 1.8);

const diamond = r => `M0,${-r}L${r},0L0,${r}L${-r},0Z`;

const g = svg.append("g").attr("clip-path", "url(#clip)");

// clear-day line
const line = d3.line().x(d => x(d.date)).y(d => y(d.value)).curve(d3.curveCatmullRom);
g.append("path").datum(clearDay).attr("d", line)
  .attr("fill", "none").attr("stroke", "#000080").attr("stroke-width", 3);

// original points
g.append("g").selectAll("path").data(original).join("path")
  .attr("transform", d => `translate(${x(d.date)},${y(d.value)})`)
  .attr("d", diamond(3)).attr("fill", "#3a6cf4");

// corrected points
g.append("g").selectAll("path").data(corrected).join("path")
  .attr("transform", d => `translate(${x(d.date)},${y(d.value)})`)
  .attr("d", diamond(3.3)).attr("fill", "#eef2f9").attr("stroke", "#4673ac").attr("stroke-width", 1.8);

// y axis
const yAxis = d3.axisLeft(y).tickValues(yTickValues).tickSize(7).tickPadding(12).tickSizeOuter(0);
const yg = svg.append("g").attr("transform", `translate(${plot.left},0)`).call(yAxis);
yg.select(".domain").attr("stroke", "#000").attr("stroke-width", 2.5);
yg.selectAll(".tick line").attr("stroke", "#000").attr("stroke-width", 1.5);
yg.selectAll(".tick text").attr("font-size", 23.5).attr("font-family", "Liberation Serif").attr("fill", "#000").attr("dy", "0.33em");

// x axis
const xAxis = d3.axisBottom(x).tickValues(xTickLabels.map(parse)).tickFormat(fmt).tickSize(7).tickPadding(19).tickSizeOuter(0);
const xg = svg.append("g").attr("transform", `translate(0,${plot.bottom})`).call(xAxis);
xg.select(".domain").attr("stroke", "#000").attr("stroke-width", 3);
xg.selectAll(".tick line").attr("stroke", "#000").attr("stroke-width", 1.5);
xg.selectAll(".tick text").attr("font-size", 23.5).attr("font-family", "Liberation Serif").attr("fill", "#000").attr("dy", "0.71em");

// axis titles
svg.append("text").attr("transform", "translate(31,343) rotate(-90)")
  .attr("text-anchor", "middle").attr("font-size", 27.5).attr("font-weight", "bold").text(yTitle);
svg.append("text").attr("x", 657).attr("y", 761)
  .attr("text-anchor", "middle").attr("font-size", 27.5).attr("font-weight", "bold").text(xTitle);

// legend
const lg = svg.append("g");
lg.append("rect").attr("x", 655.5).attr("y", 12.5).attr("width", 556).attr("height", 98)
  .attr("fill", "#fff").attr("stroke", "#000").attr("stroke-width", 1);
const rowsY = [31, 64, 97];
lg.append("path").attr("transform", `translate(707,${rowsY[0]})`).attr("d", diamond(3)).attr("fill", "#3a6cf4");
lg.append("path").attr("transform", `translate(707,${rowsY[1]})`).attr("d", diamond(3.3))
  .attr("fill", "#eef2f9").attr("stroke", "#4673ac").attr("stroke-width", 1.8);
lg.append("line").attr("x1", 689).attr("x2", 723).attr("y1", rowsY[2]).attr("y2", rowsY[2])
  .attr("stroke", "#000080").attr("stroke-width", 3);
lg.selectAll("text.lab").data(seriesNames).join("text").attr("class", "lab")
  .attr("x", 733).attr("y", (d, i) => rowsY[i] + 7).attr("font-size", 21.3).text(d => d);
</script>
</body></html>
